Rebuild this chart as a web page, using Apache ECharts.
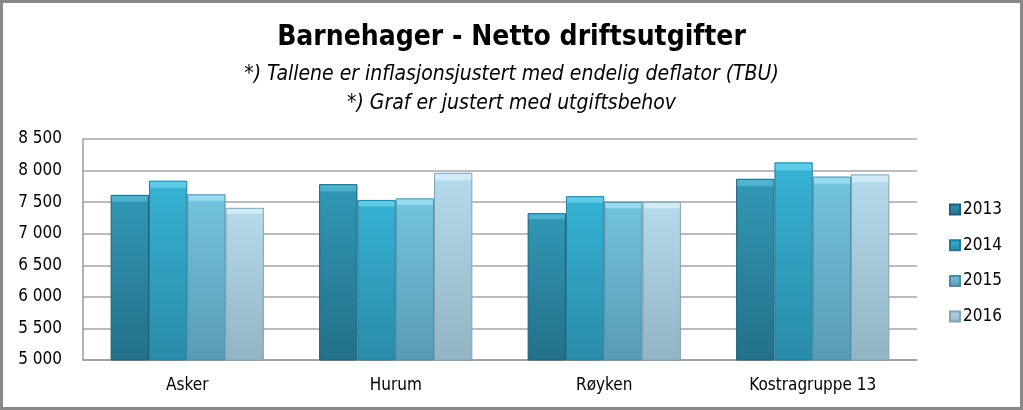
<!DOCTYPE html>
<html>
<head>
<meta charset="utf-8">
<script src="https://cdn.jsdelivr.net/npm/echarts@6/dist/echarts.min.js"></script>
<style>
html,body{margin:0;padding:0;background:#fff;}
#c{width:1023px;height:410px;}
</style>
</head>
<body>
<div id="c"></div>
<script>
const categories = ['Asker', 'Hurum', 'Røyken', 'Kostragruppe 13'];
const years = ['2013', '2014', '2015', '2016'];
const v2013 = [7615, 7785, 7325, 7870];
const v2014 = [7840, 7535, 7595, 8130];
const v2015 = [7625, 7560, 7505, 7905];
const v2016 = [7410, 7965, 7505, 7940];
const yTicks = { min: 5000, max: 8500, interval: 500 };

const seriesValues = [v2013, v2014, v2015, v2016];
const highlights = ['#4fb3cf', '#5fcbe8', '#98daf0', '#d2ecf7'];
const tops = ['#3196b3', '#36b0d2', '#72c2dd', '#b3d9ea'];
const bottoms = ['#237089', '#298ca8', '#5a9bb3', '#92b4c4'];
const borders = ['#1d5e74', '#23799a', '#4f8aa3', '#7fa3b5'];

const font = '"Liberation Sans Narrow", "DejaVu Sans Condensed", "Open Sans", sans-serif';

function fmt(v) {
  const s = String(v);
  return s.length > 3 ? s.slice(0, s.length - 3) + ' ' + s.slice(-3) : s;
}

const chart = echarts.init(document.getElementById('c'));
chart.setOption({
  backgroundColor: '#fff',
  animation: false,
  textStyle: { fontFamily: font },
  graphic: [{
    type: 'rect',
    shape: { x: 1.5, y: 1.5, width: 1020, height: 407 },
    style: { fill: 'none', stroke: '#898989', lineWidth: 3 },
    silent: true
  }],
  title: [
    { text: 'Barnehager - Netto driftsutgifter', left: 'center', top: 19,
      textStyle: { fontFamily: font, fontSize: 28, fontWeight: 'bold', color: '#000' } },
    { text: '*) Tallene er inflasjonsjustert med endelig deflator (TBU)', left: 'center', top: 59,
      textStyle: { fontFamily: font, fontSize: 21, fontStyle: 'italic', fontWeight: 'normal', color: '#000' } },
    { text: '*) Graf er justert med utgiftsbehov', left: 'center', top: 88,
      textStyle: { fontFamily: font, fontSize: 21, fontStyle: 'italic', fontWeight: 'normal', color: '#000' } }
  ],
  legend: {
    orient: 'vertical',
    left: 944,
    top: 196,
    itemWidth: 10,
    itemHeight: 10,
    itemGap: 18.7,
    icon: 'rect',
    textStyle: { fontFamily: font, fontSize: 17, color: '#000', padding: [0, 0, 0, -2] },
    data: years
  },
  grid: { left: 83, right: 106, top: 139, bottom: 50, containLabel: false },
  xAxis: {
    type: 'category',
    data: categories,
    axisLine: { lineStyle: { color: '#9a9a9a', width: 1.5 } },
    axisTick: { show: false },
    axisLabel: { fontFamily: font, fontSize: 17, color: '#000', margin: 17 }
  },
  yAxis: {
    type: 'value',
    min: yTicks.min,
    max: yTicks.max,
    interval: yTicks.interval,
    axisLine: { show: true, lineStyle: { color: '#9a9a9a', width: 1.5 } },
    axisTick: { show: false },
    splitLine: { lineStyle: { color: '#a6a6a6', width: 1.5 } },
    axisLabel: { fontFamily: font, fontSize: 17, color: '#000', margin: 21, formatter: fmt }
  },
  series: years.map((y, i) => ({
    name: y,
    type: 'bar',
    data: seriesValues[i],
    barGap: '0%',
    barCategoryGap: '26.5%',
    itemStyle: {
      color: new echarts.graphic.LinearGradient(0, 0, 0, 1, [
        { offset: 0, color: highlights[i] },
        { offset: 0.035, color: highlights[i] },
        { offset: 0.045, color: tops[i] },
        { offset: 1, color: bottoms[i] }
      ]),
      borderColor: borders[i],
      borderWidth: 1
    }
  }))
});
</script>
</body>
</html>
